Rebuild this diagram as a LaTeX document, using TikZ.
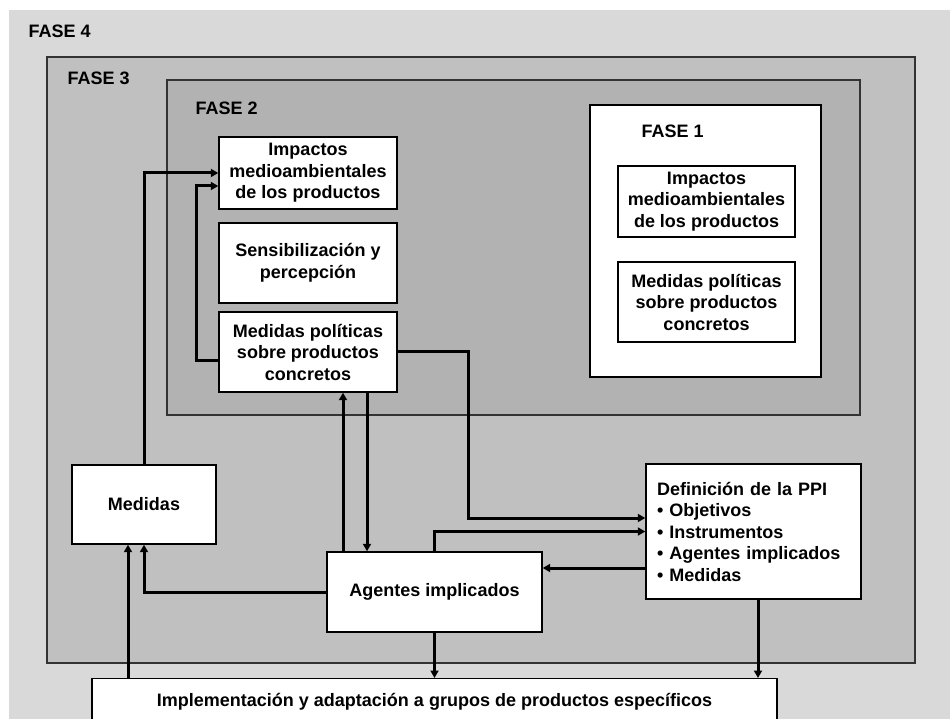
\documentclass[tikz,border=0pt]{standalone}
\usepackage{fontspec}
\setmainfont{Liberation Sans}
\usetikzlibrary{arrows.meta}
\definecolor{phasefour}{HTML}{D9D9D9}
\definecolor{phasethree}{HTML}{C0C0C0}
\definecolor{phasetwo}{HTML}{B2B2B2}
\definecolor{frameline}{HTML}{333333}
\begin{document}
\begin{tikzpicture}[x=1pt,y=-1pt,
  txt/.style={font=\bfseries\fontsize{18}{21.5}\selectfont},
  phase/.style={draw=frameline,line width=1.5pt},
  stepbox/.style={draw=black,line width=1.4pt,fill=white,inner sep=0pt,align=center,
    font=\bfseries\fontsize{18}{21.5}\selectfont},
  arr/.style={line width=3pt,-{Triangle[length=7.5pt,width=8pt]}}]
\useasboundingbox (0,0) rectangle (950,719);
\clip (0,0) rectangle (950,719);
\fill[white] (0,0) rectangle (950,719);

% nested phases
\fill[phasefour] (9,10) rectangle (950,719);
\node[txt,anchor=west] (f4) at (25,31) {FASE 4};
\draw[phase,fill=phasethree] (47,57) rectangle (915,663);
\node[txt,anchor=west] (f3) at (64,78) {FASE 3};
\draw[phase,fill=phasetwo] (167,80) rectangle (860,415);
\node[txt,anchor=west] (f2) at (192,108) {FASE 2};
\draw[draw=black,line width=1.4pt,fill=white] (590,105) rectangle (821,377);
\node[txt,anchor=west] (f1) at (638,131) {FASE 1};

% phase 1 contents
\node[stepbox,minimum width=177pt,minimum height=71pt] (imp1) at (706.5,201.5)
  {Impactos\\medioambientales\\de los productos};
\node[stepbox,minimum width=177pt,minimum height=80pt] (med1) at (706.5,302)
  {Medidas políticas\\sobre productos\\concretos};

% phase 2 contents
\node[stepbox,minimum width=178pt,minimum height=72pt] (imp2) at (308,173)
  {Impactos\\medioambientales\\de los productos};
\node[stepbox,minimum width=178pt,minimum height=80pt] (sens) at (308,263)
  {Sensibilización y\\percepción};
\node[stepbox,minimum width=178pt,minimum height=80pt] (med2) at (308,352)
  {Medidas políticas\\sobre productos\\concretos};

% phase 3 contents
\node[stepbox,minimum width=144pt,minimum height=79pt] (medidas) at (144,504.5) {Medidas};
\node[stepbox,minimum width=215pt,minimum height=80pt] (agentes) at (434.5,592) {Agentes implicados};
\node[stepbox,align=left,text width=193pt,inner xsep=11pt,minimum height=135pt] (def) at (753.5,531.5)
  {Definición de la PPI\\• Objetivos\\• Instrumentos\\• Agentes implicados\\• Medidas};

% phase 4 contents
\node[stepbox,anchor=north,minimum width=685pt,inner ysep=14.5pt,text height=13pt,text depth=30pt]
  (impl) at (434.5,678) {Implementación y adaptación a grupos de productos específicos};

% connectors
\draw[arr] (medidas.north) |- (imp2.west);
\draw[arr] ([yshift=-8pt]med2.west) -- ++(-22,0) |- ([yshift=-13pt]imp2.west);
\coordinate (j1) at (468,518);
\draw[arr] ([yshift=1pt]med2.east) -| (j1) -- (j1 -| def.west);
\draw[arr] (agentes.north) |- (def.west);
\draw[arr] ([yshift=-36.5pt]def.west) coordinate (d5) -- (d5 -| agentes.east);
\draw[arr] ([xshift=-91.5pt]agentes.north) -- ([xshift=35pt]med2.south);
\draw[arr] ([xshift=59pt]med2.south) -- ([xshift=-67.5pt]agentes.north);
\draw[arr] (agentes.west) -| (medidas.south);
\draw[arr] ([xshift=-16pt]medidas.south |- impl.north) -- ([xshift=-16pt]medidas.south);
\draw[arr] (agentes.south) -- (impl.north);
\draw[arr] ([xshift=4.5pt]def.south) -- ([xshift=4.5pt]def.south |- impl.north);
\end{tikzpicture}
\end{document}
